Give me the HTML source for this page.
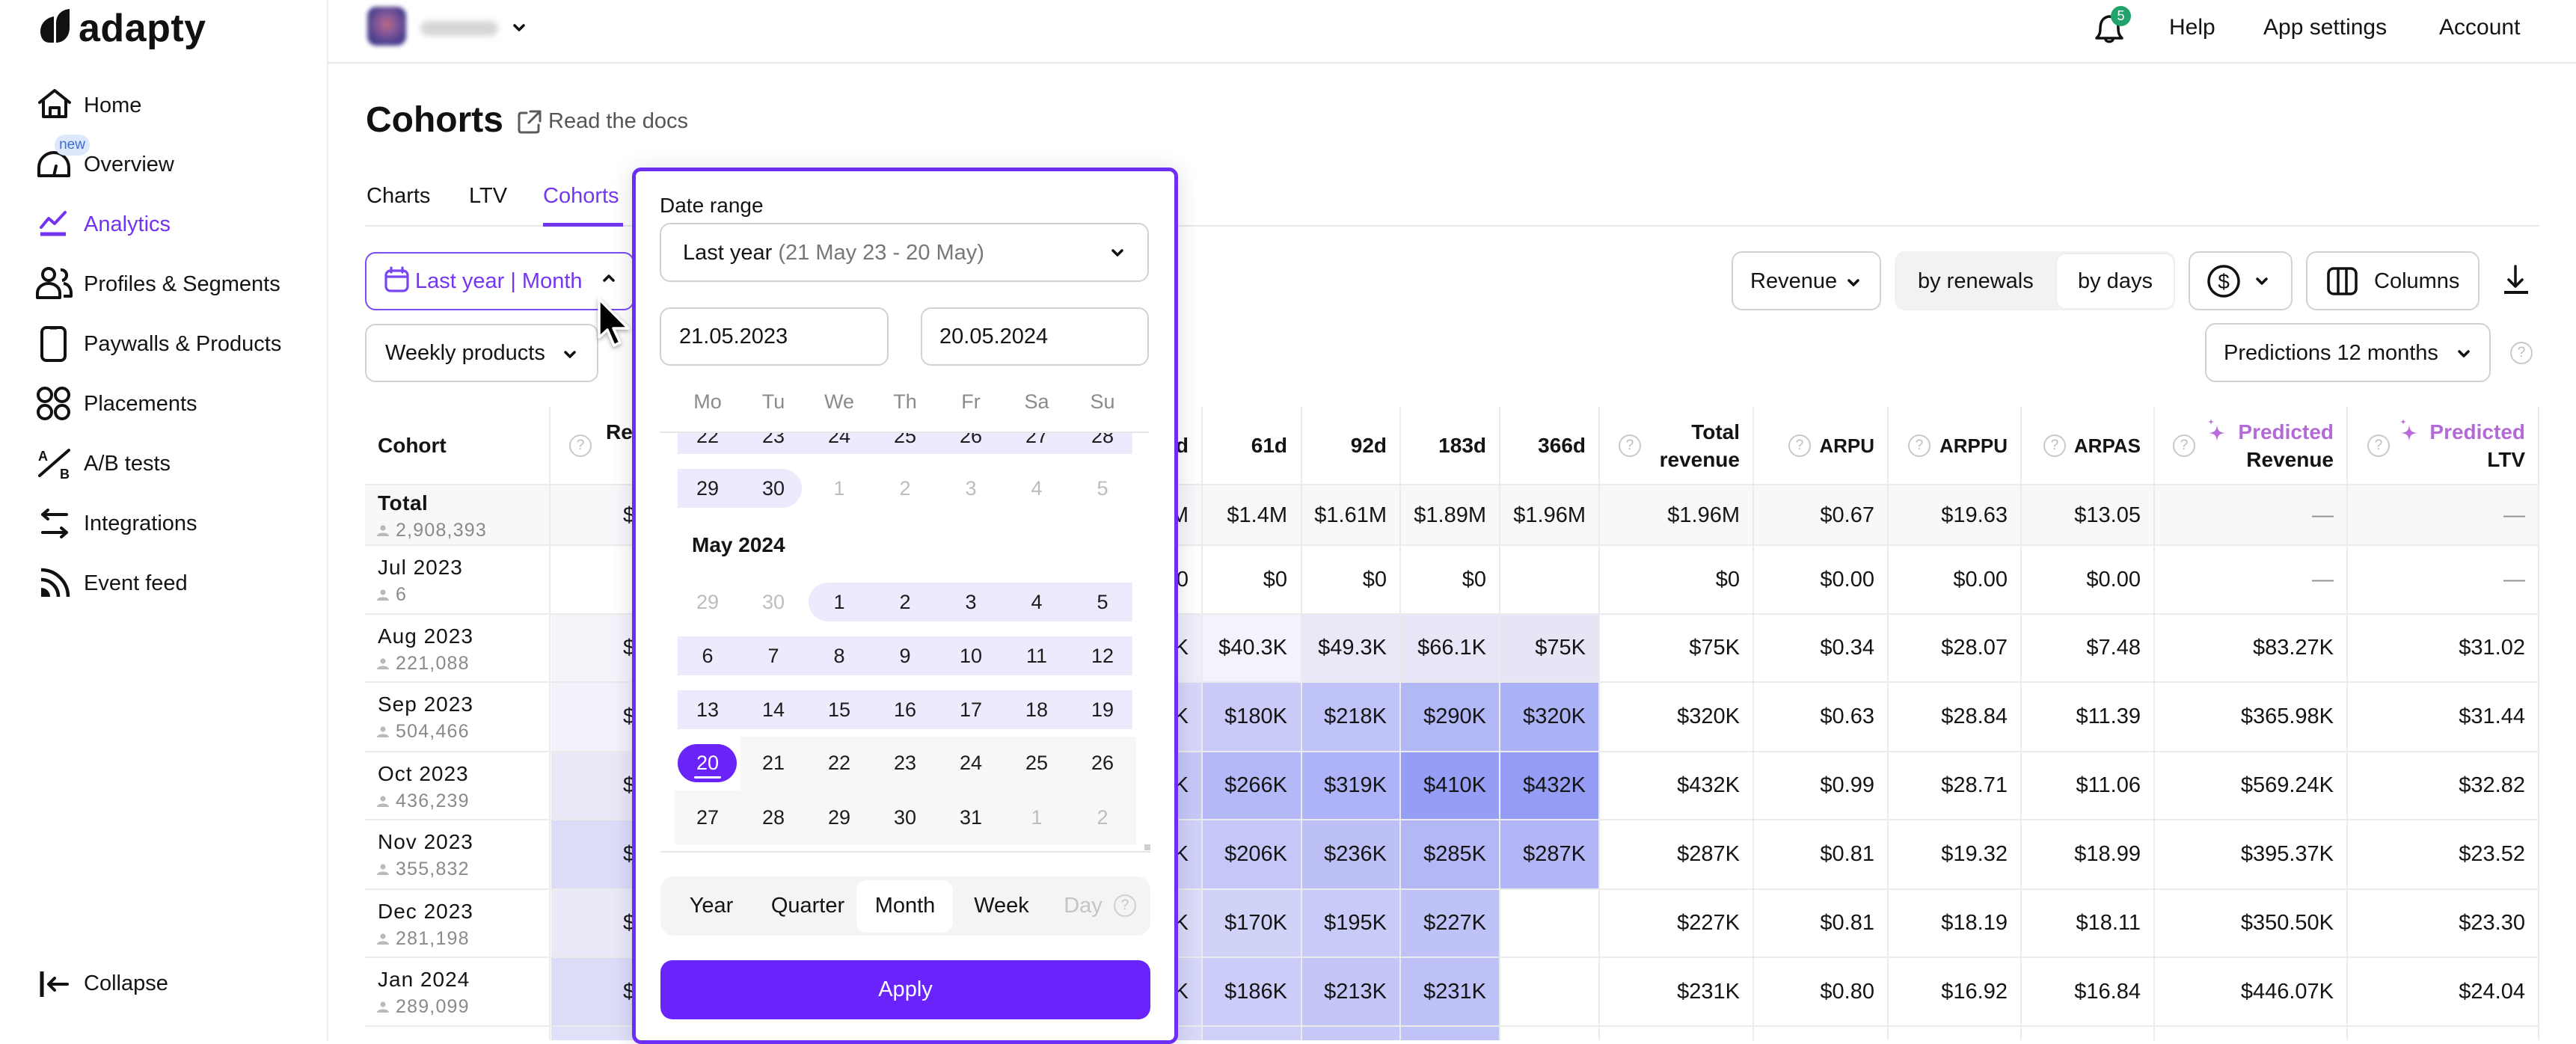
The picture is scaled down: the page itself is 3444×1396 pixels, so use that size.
<!DOCTYPE html>
<html><head><meta charset="utf-8">
<style>
*{box-sizing:border-box}
body{margin:0;width:3444px;height:1391px;overflow:hidden;position:relative;background:#fff;font-family:"Liberation Sans",Arial,sans-serif;color:#141414}
.a{position:absolute}
.t{position:absolute;white-space:nowrap;line-height:40px;height:40px;font-size:29px}
.r{position:absolute;white-space:nowrap;line-height:40px;height:40px;font-size:29px;text-align:right;width:220px}
.hb{font-weight:bold;font-size:28px}
.hs{font-size:26px}
.q{position:absolute;width:30px;height:30px;border:2.5px solid #c9c9c9;border-radius:50%;color:#bdbdbd;font-size:19px;text-align:center;line-height:25px}
.btn{position:absolute;border:2px solid #d2d2d2;border-radius:14px;background:#fff}
.hl{position:absolute;left:488px;width:2907px;height:2px;background:#ebebeb}
.vl{position:absolute;top:544px;width:2px;height:847px;background:#ebebeb}
.cell{position:absolute}
.nm{position:absolute;white-space:nowrap;font-size:28px;letter-spacing:1px;line-height:40px;height:40px;left:505px}
.ct{position:absolute;white-space:nowrap;font-size:25px;letter-spacing:1.2px;line-height:40px;height:40px;left:529px;color:#8a8a8a}
.pi{position:absolute;left:504px;width:16px;height:15px}
.d{position:absolute;width:80px;text-align:center;font-size:27px;line-height:40px;height:40px;color:#1d1d1d}
.g{color:#bdbdbd}
.dash{color:#8d8d8d}
</style></head><body>

<!-- Sidebar -->
<div class="a" style="left:437px;top:0;width:2px;height:1391px;background:#ededed"></div>
<svg class="a" style="left:0;top:0" width="110" height="70">
<path d="M72,22 L72,57 L66,57 C58,57 54,50 54,42 C54,31 62,24 72,22 Z" fill="#111"/>
<path d="M93,12 L93,37 C93,49 85,57 75,57 L75,31 C75,20 82,13 93,12 Z" fill="#111"/>
</svg>
<div class="t" style="left:105px;top:8px;height:60px;line-height:60px;font-size:52px;font-weight:bold;letter-spacing:0.5px;color:#111">adapty</div>

<!-- sidebar icons -->
<svg class="a" style="left:50px;top:118px" width="48" height="42" fill="none" stroke="#111" stroke-width="4" stroke-linejoin="round" stroke-linecap="round">
<path d="M3,19 L23,3 L43,19"/><path d="M8,15 V38 H38 V15"/><path d="M17,38 V26 H29 V38"/></svg>
<svg class="a" style="left:48px;top:200px" width="50" height="40" fill="none" stroke="#111" stroke-width="4" stroke-linejoin="round">
<path d="M4,35 V24 A20,20 0 0 1 44,24 V35 Z"/><path d="M24,35 L27,22" stroke-linecap="round"/></svg>
<div class="a" style="left:73px;top:180px;width:47px;height:28px;border-radius:14px;background:#dce8fb;color:#3d6bd6;font-size:19px;line-height:28px;text-align:center">new</div>
<svg class="a" style="left:51px;top:280px" width="42" height="40" fill="none" stroke="#7133f0" stroke-width="4" stroke-linejoin="round" stroke-linecap="round">
<path d="M4,24 L14,12 L22,19 L36,4"/><path d="M3,33 H37" stroke-width="5" stroke-linecap="butt"/></svg>
<svg class="a" style="left:47px;top:356px" width="52" height="46" fill="none" stroke="#111" stroke-width="4" stroke-linejoin="round">
<circle cx="18" cy="11" r="8"/><path d="M3,42 V36 C3,28 10,23 18,23 C26,23 33,28 33,36 V42 Z"/>
<path d="M34,5 A7,7 0 1 1 36,19"/><path d="M38,23 C45,24 48,30 48,36 V40 H38"/></svg>
<svg class="a" style="left:53px;top:435px" width="38" height="50" fill="none" stroke="#111" stroke-width="4">
<rect x="3" y="3" width="31" height="44" rx="6"/><path d="M14,4 H23" stroke-width="3"/></svg>
<svg class="a" style="left:48px;top:516px" width="50" height="50" fill="none" stroke="#111" stroke-width="4">
<circle cx="12" cy="12" r="9"/><circle cx="35" cy="12" r="9"/><circle cx="12" cy="35" r="9"/><circle cx="35" cy="35" r="9"/></svg>
<svg class="a" style="left:50px;top:598px" width="50" height="46">
<text x="1" y="18" font-family="Liberation Sans" font-weight="bold" font-size="18" fill="#111">A</text>
<text x="30" y="42" font-family="Liberation Sans" font-weight="bold" font-size="18" fill="#111">B</text>
<path d="M3,38 L42,4" stroke="#111" stroke-width="4" stroke-linecap="round"/></svg>
<svg class="a" style="left:52px;top:680px" width="42" height="40" fill="none" stroke="#111" stroke-width="4" stroke-linecap="round" stroke-linejoin="round">
<path d="M37,8 H5 M12,2 L5,8 L12,14"/><path d="M5,32 H37 M30,26 L37,32 L30,38"/></svg>
<svg class="a" style="left:52px;top:756px" width="44" height="42">
<path d="M3,42 V30 A12,12 0 0 1 15,42 Z" fill="#111"/>
<path d="M3,19 A23,23 0 0 1 26,42" fill="none" stroke="#111" stroke-width="4.5"/>
<path d="M3,6 A36,36 0 0 1 39,42" fill="none" stroke="#111" stroke-width="4.5"/></svg>
<svg class="a" style="left:52px;top:1296px" width="42" height="40" fill="none" stroke="#111" stroke-width="4" stroke-linecap="round" stroke-linejoin="round">
<path d="M4,3 V37" stroke-linecap="butt" stroke-width="5"/><path d="M38,20 H13 M21,12 L13,20 L21,28"/></svg>

<div class="t" style="left:112px;top:121px">Home</div>
<div class="t" style="left:112px;top:200px">Overview</div>
<div class="t" style="left:112px;top:280px;color:#7133f0">Analytics</div>
<div class="t" style="left:112px;top:360px">Profiles &amp; Segments</div>
<div class="t" style="left:112px;top:440px">Paywalls &amp; Products</div>
<div class="t" style="left:112px;top:520px">Placements</div>
<div class="t" style="left:112px;top:600px">A/B tests</div>
<div class="t" style="left:112px;top:680px">Integrations</div>
<div class="t" style="left:112px;top:760px">Event feed</div>
<div class="t" style="left:112px;top:1295px">Collapse</div>

<!-- Top bar -->
<div class="a" style="left:439px;top:83px;width:3005px;height:2px;background:#e8e8e8"></div>
<div class="a" style="left:491px;top:9px;width:52px;height:52px;border-radius:12px;background:radial-gradient(circle at 50% 45%,#c06a7a 0,#8a5a9a 30%,#4a3f8e 70%);filter:blur(3px)"></div>
<div class="a" style="left:562px;top:28px;width:104px;height:20px;border-radius:10px;background:#d6d6d6;filter:blur(4px)"></div>
<svg class="a" style="left:685px;top:31px" width="18" height="12" fill="none" stroke="#111" stroke-width="3.5" stroke-linecap="round" stroke-linejoin="round"><path d="M3,3 L9,9 L15,3"/></svg>

<svg class="a" style="left:2800px;top:12px" width="50" height="50" fill="none" stroke="#111" stroke-width="3.5" stroke-linejoin="round">
<path d="M20,10 C11,11 8,18 8,26 C8,33 6,36 3,39 H37 C34,36 32,33 32,26 C32,18 29,11 20,10 Z"/>
<path d="M15,40 C15,45 25,45 25,40"/></svg>
<div class="a" style="left:2822px;top:8px;width:27px;height:27px;border-radius:50%;background:#22a36c;color:#fff;font-size:18px;line-height:27px;text-align:center">5</div>
<div class="t" style="left:2900px;top:17px;font-size:30px">Help</div>
<div class="t" style="left:3026px;top:17px;font-size:30px">App settings</div>
<div class="t" style="left:3261px;top:17px;font-size:30px">Account</div>

<!-- Title -->
<div class="t" style="left:489px;top:131px;height:60px;line-height:60px;font-size:48px;font-weight:bold;color:#111">Cohorts</div>
<svg class="a" style="left:690px;top:145px" width="36" height="36" fill="none" stroke="#5a5a5a" stroke-width="3" stroke-linecap="round" stroke-linejoin="round">
<path d="M14,6 H7 C5,6 4,7 4,9 V29 C4,31 5,32 7,32 H27 C29,32 30,31 30,29 V22"/><path d="M19,4 H32 V17 M32,4 L17,19"/></svg>
<div class="t" style="left:733px;top:142px;color:#555">Read the docs</div>

<!-- Tabs -->
<div class="t" style="left:490px;top:242px">Charts</div>
<div class="t" style="left:627px;top:242px">LTV</div>
<div class="t" style="left:726px;top:242px;color:#7237f1">Cohorts</div>
<div class="a" style="left:488px;top:301px;width:2907px;height:2px;background:#e8e8e8"></div>
<div class="a" style="left:726px;top:298px;width:107px;height:5px;background:#7237f1"></div>

<!-- Filter buttons -->
<div class="btn" style="left:488px;top:337px;width:360px;height:78px;border-color:#7c4bf3"></div>
<svg class="a" style="left:513px;top:356px" width="36" height="36" fill="none" stroke="#7a45f2" stroke-width="3.2" stroke-linejoin="round">
<rect x="3" y="6" width="29" height="27" rx="6"/><path d="M3,14 H32 M10,2 V8 M25,2 V8" stroke-linecap="round"/></svg>
<div class="t" style="left:555px;top:356px;color:#7336f2">Last year | Month</div>
<svg class="a" style="left:805px;top:366px" width="18" height="12" fill="none" stroke="#111" stroke-width="3.5" stroke-linecap="round" stroke-linejoin="round"><path d="M3,9 L9,3 L15,9"/></svg>

<div class="btn" style="left:488px;top:433px;width:312px;height:78px"></div>
<div class="t" style="left:515px;top:452px">Weekly products</div>
<svg class="a" style="left:753px;top:468px" width="18" height="12" fill="none" stroke="#111" stroke-width="3.5" stroke-linecap="round" stroke-linejoin="round"><path d="M3,3 L9,9 L15,3"/></svg>

<!-- right toolbar -->
<div class="btn" style="left:2315px;top:336px;width:200px;height:79px"></div>
<div class="t" style="left:2340px;top:356px">Revenue</div>
<svg class="a" style="left:2469px;top:372px" width="18" height="12" fill="none" stroke="#111" stroke-width="3.5" stroke-linecap="round" stroke-linejoin="round"><path d="M3,3 L9,9 L15,3"/></svg>
<div class="a" style="left:2533px;top:336px;width:375px;height:79px;border-radius:14px;background:#f2f2f2"></div>
<div class="a" style="left:2750px;top:340px;width:156px;height:72px;border-radius:12px;background:#fff;box-shadow:0 0 3px rgba(0,0,0,0.06)"></div>
<div class="t" style="left:2564px;top:356px">by renewals</div>
<div class="t" style="left:2778px;top:356px">by days</div>
<div class="btn" style="left:2926px;top:336px;width:139px;height:79px"></div>
<svg class="a" style="left:2950px;top:353px" width="46" height="46"><circle cx="23" cy="23" r="20" fill="none" stroke="#111" stroke-width="3.5"/>
<text x="23" y="33" text-anchor="middle" font-family="Liberation Sans" font-size="28" fill="#111">$</text></svg>
<svg class="a" style="left:3015px;top:370px" width="18" height="12" fill="none" stroke="#111" stroke-width="3.5" stroke-linecap="round" stroke-linejoin="round"><path d="M3,3 L9,9 L15,3"/></svg>
<div class="btn" style="left:3083px;top:336px;width:232px;height:79px"></div>
<svg class="a" style="left:3110px;top:356px" width="44" height="40" fill="none" stroke="#111" stroke-width="3.5">
<rect x="3" y="3" width="37" height="34" rx="7"/><path d="M16,3 V37 M27,3 V37"/></svg>
<div class="t" style="left:3174px;top:356px">Columns</div>
<svg class="a" style="left:3346px;top:352px" width="36" height="44" fill="none" stroke="#111" stroke-width="3.5" stroke-linecap="round" stroke-linejoin="round">
<path d="M17,4 V30 M8,22 L17,31 L26,22"/><path d="M2,39 H34" stroke-linecap="butt" stroke-width="4"/></svg>

<div class="btn" style="left:2948px;top:432px;width:382px;height:79px"></div>
<div class="t" style="left:2973px;top:452px">Predictions 12 months</div>
<svg class="a" style="left:3285px;top:467px" width="18" height="12" fill="none" stroke="#111" stroke-width="3.5" stroke-linecap="round" stroke-linejoin="round"><path d="M3,3 L9,9 L15,3"/></svg>
<div class="q" style="left:3356px;top:457px">?</div>

<!-- Table backgrounds -->
<div class="cell" style="left:488px;top:648px;width:2907px;height:81px;background:#f8f8fa"></div>
<div class="cell" style="left:737px;top:821px;width:110px;height:91px;background:#f4f4fb"></div>
<div class="cell" style="left:737px;top:912px;width:110px;height:93px;background:#f2f2fb"></div>
<div class="cell" style="left:737px;top:1005px;width:110px;height:91px;background:#e8e8f7"></div>
<div class="cell" style="left:737px;top:1096px;width:110px;height:93px;background:#dddcf8"></div>
<div class="cell" style="left:737px;top:1189px;width:110px;height:91px;background:#e9e9f8"></div>
<div class="cell" style="left:737px;top:1280px;width:110px;height:92px;background:#dcdcf8"></div>
<div class="cell" style="left:737px;top:1372px;width:110px;height:19px;background:#e0e0f8"></div>
<div class="cell" style="left:1560px;top:821px;width:47px;height:91px;background:#eeeefa"></div>
<div class="cell" style="left:1560px;top:912px;width:47px;height:93px;background:#d6d7f8"></div>
<div class="cell" style="left:1560px;top:1005px;width:47px;height:91px;background:#c5c8f7"></div>
<div class="cell" style="left:1560px;top:1096px;width:47px;height:93px;background:#d0d1f8"></div>
<div class="cell" style="left:1560px;top:1189px;width:47px;height:91px;background:#dbdbf8"></div>
<div class="cell" style="left:1560px;top:1280px;width:47px;height:92px;background:#d5d6f8"></div>
<div class="cell" style="left:1560px;top:1372px;width:47px;height:19px;background:#d8d9f8"></div>
<div class="cell" style="left:1607px;top:821px;width:133px;height:91px;background:#f3f3fb"></div>
<div class="cell" style="left:1740px;top:821px;width:132px;height:91px;background:#e8e8f7"></div>
<div class="cell" style="left:1872px;top:821px;width:133px;height:91px;background:#e6e6f6"></div>
<div class="cell" style="left:2005px;top:821px;width:133px;height:91px;background:#e5e5f5"></div>
<div class="cell" style="left:1607px;top:912px;width:133px;height:93px;background:#c9caf8"></div>
<div class="cell" style="left:1740px;top:912px;width:132px;height:93px;background:#c0c3f8"></div>
<div class="cell" style="left:1872px;top:912px;width:133px;height:93px;background:#b2b7f6"></div>
<div class="cell" style="left:2005px;top:912px;width:133px;height:93px;background:#acb2f6"></div>
<div class="cell" style="left:1607px;top:1005px;width:133px;height:91px;background:#b4b8f6"></div>
<div class="cell" style="left:1740px;top:1005px;width:132px;height:91px;background:#adb3f6"></div>
<div class="cell" style="left:1872px;top:1005px;width:133px;height:91px;background:#969df4"></div>
<div class="cell" style="left:2005px;top:1005px;width:133px;height:91px;background:#959cf4"></div>
<div class="cell" style="left:1607px;top:1096px;width:133px;height:93px;background:#c5c7f8"></div>
<div class="cell" style="left:1740px;top:1096px;width:132px;height:93px;background:#bdc0f7"></div>
<div class="cell" style="left:1872px;top:1096px;width:133px;height:93px;background:#b3b7f6"></div>
<div class="cell" style="left:2005px;top:1096px;width:133px;height:93px;background:#b2b6f6"></div>
<div class="cell" style="left:1607px;top:1189px;width:133px;height:91px;background:#d1d2f8"></div>
<div class="cell" style="left:1740px;top:1189px;width:132px;height:91px;background:#c8caf8"></div>
<div class="cell" style="left:1872px;top:1189px;width:133px;height:91px;background:#bfc2f7"></div>
<div class="cell" style="left:1607px;top:1280px;width:133px;height:92px;background:#cbccf8"></div>
<div class="cell" style="left:1740px;top:1280px;width:132px;height:92px;background:#c4c6f8"></div>
<div class="cell" style="left:1872px;top:1280px;width:133px;height:92px;background:#bec1f7"></div>
<div class="cell" style="left:1607px;top:1372px;width:133px;height:19px;background:#cfd0f8"></div>
<div class="cell" style="left:1740px;top:1372px;width:132px;height:19px;background:#c6c8f8"></div>
<div class="cell" style="left:1872px;top:1372px;width:133px;height:19px;background:#c0c3f7"></div>

<!-- grid lines -->
<div class="hl" style="top:647px"></div>
<div class="hl" style="top:728px"></div>
<div class="hl" style="top:820px"></div>
<div class="hl" style="top:911px"></div>
<div class="hl" style="top:1004px"></div>
<div class="hl" style="top:1095px"></div>
<div class="hl" style="top:1188px"></div>
<div class="hl" style="top:1279px"></div>
<div class="hl" style="top:1371px"></div>
<div class="vl" style="left:734px"></div>
<div class="vl" style="left:1606px"></div>
<div class="vl" style="left:1739px"></div>
<div class="vl" style="left:1871px"></div>
<div class="vl" style="left:2004px"></div>
<div class="vl" style="left:2137px"></div>
<div class="vl" style="left:2343px"></div>
<div class="vl" style="left:2523px"></div>
<div class="vl" style="left:2701px"></div>
<div class="vl" style="left:2879px"></div>
<div class="vl" style="left:3137px"></div>
<div class="vl" style="left:3393px"></div>

<!-- header -->
<div class="t hb" style="left:505px;top:576px">Cohort</div>
<div class="q" style="left:761px;top:581px">?</div>
<div class="t hb" style="left:810px;top:558px">Revenue</div>
<div class="r hb" style="left:1369px;top:576px">31d</div>
<div class="r hb" style="left:1501px;top:576px">61d</div>
<div class="r hb" style="left:1634px;top:576px">92d</div>
<div class="r hb" style="left:1767px;top:576px">183d</div>
<div class="r hb" style="left:1900px;top:576px">366d</div>
<div class="q" style="left:2164px;top:581px">?</div>
<div class="r hb" style="left:2106px;top:558px">Total</div>
<div class="r hb" style="left:2106px;top:595px">revenue</div>
<div class="q" style="left:2391px;top:581px">?</div>
<div class="r hb hs" style="left:2286px;top:576px">ARPU</div>
<div class="q" style="left:2551px;top:581px">?</div>
<div class="r hb hs" style="left:2464px;top:576px">ARPPU</div>
<div class="q" style="left:2732px;top:581px">?</div>
<div class="r hb hs" style="left:2642px;top:576px">ARPAS</div>
<div class="q" style="left:2905px;top:581px">?</div>
<svg class="a" style="left:2950px;top:558px" width="28" height="40"><path d="M14,10 C15,18 17,20 25,21 C17,22 15,24 14,32 C13,24 11,22 3,21 C11,20 13,18 14,10 Z" fill="#b86bdc"/><path d="M6,2 C6.5,5 7,5.5 10,6 C7,6.5 6.5,7 6,10 C5.5,7 5,6.5 2,6 C5,5.5 5.5,5 6,2 Z" fill="#b86bdc"/></svg>
<div class="r hb" style="left:2900px;top:558px;color:#b36ad9">Predicted</div>
<div class="r hb" style="left:2900px;top:595px">Revenue</div>
<div class="q" style="left:3165px;top:581px">?</div>
<svg class="a" style="left:3207px;top:558px" width="28" height="40"><path d="M14,10 C15,18 17,20 25,21 C17,22 15,24 14,32 C13,24 11,22 3,21 C11,20 13,18 14,10 Z" fill="#b86bdc"/><path d="M6,2 C6.5,5 7,5.5 10,6 C7,6.5 6.5,7 6,10 C5.5,7 5,6.5 2,6 C5,5.5 5.5,5 6,2 Z" fill="#b86bdc"/></svg>
<div class="r hb" style="left:3156px;top:558px;color:#b36ad9">Predicted</div>
<div class="r hb" style="left:3156px;top:595px">LTV</div>

<!-- cohort names -->
<div class="nm" style="top:653px;font-weight:bold;letter-spacing:0.5px">Total</div>
<svg class="pi" style="top:702px" viewBox="0 0 16 15"><circle cx="8" cy="4" r="3.6" fill="#b9b9b9"/><path d="M0,15 C0,9 16,9 16,15 Z" fill="#b9b9b9"/></svg>
<div class="ct" style="top:689px">2,908,393</div>
<div class="nm" style="top:739px">Jul 2023</div>
<svg class="pi" style="top:788px" viewBox="0 0 16 15"><circle cx="8" cy="4" r="3.6" fill="#b9b9b9"/><path d="M0,15 C0,9 16,9 16,15 Z" fill="#b9b9b9"/></svg>
<div class="ct" style="top:775px">6</div>
<div class="nm" style="top:831px">Aug 2023</div>
<svg class="pi" style="top:880px" viewBox="0 0 16 15"><circle cx="8" cy="4" r="3.6" fill="#b9b9b9"/><path d="M0,15 C0,9 16,9 16,15 Z" fill="#b9b9b9"/></svg>
<div class="ct" style="top:867px">221,088</div>
<div class="nm" style="top:922px">Sep 2023</div>
<svg class="pi" style="top:971px" viewBox="0 0 16 15"><circle cx="8" cy="4" r="3.6" fill="#b9b9b9"/><path d="M0,15 C0,9 16,9 16,15 Z" fill="#b9b9b9"/></svg>
<div class="ct" style="top:958px">504,466</div>
<div class="nm" style="top:1015px">Oct 2023</div>
<svg class="pi" style="top:1064px" viewBox="0 0 16 15"><circle cx="8" cy="4" r="3.6" fill="#b9b9b9"/><path d="M0,15 C0,9 16,9 16,15 Z" fill="#b9b9b9"/></svg>
<div class="ct" style="top:1051px">436,239</div>
<div class="nm" style="top:1106px">Nov 2023</div>
<svg class="pi" style="top:1155px" viewBox="0 0 16 15"><circle cx="8" cy="4" r="3.6" fill="#b9b9b9"/><path d="M0,15 C0,9 16,9 16,15 Z" fill="#b9b9b9"/></svg>
<div class="ct" style="top:1142px">355,832</div>
<div class="nm" style="top:1199px">Dec 2023</div>
<svg class="pi" style="top:1248px" viewBox="0 0 16 15"><circle cx="8" cy="4" r="3.6" fill="#b9b9b9"/><path d="M0,15 C0,9 16,9 16,15 Z" fill="#b9b9b9"/></svg>
<div class="ct" style="top:1235px">281,198</div>
<div class="nm" style="top:1290px">Jan 2024</div>
<svg class="pi" style="top:1339px" viewBox="0 0 16 15"><circle cx="8" cy="4" r="3.6" fill="#b9b9b9"/><path d="M0,15 C0,9 16,9 16,15 Z" fill="#b9b9b9"/></svg>
<div class="ct" style="top:1326px">289,099</div>

<!-- revenue col $ -->
<div class="t" style="left:833px;top:669px">$1.96M</div>
<div class="t" style="left:833px;top:846px">$75K</div>
<div class="t" style="left:833px;top:938px">$320K</div>
<div class="t" style="left:833px;top:1030px">$432K</div>
<div class="t" style="left:833px;top:1122px">$287K</div>
<div class="t" style="left:833px;top:1214px">$227K</div>
<div class="t" style="left:833px;top:1306px">$231K</div>

<!-- values: Total -->
<div class="r" style="left:1369px;top:669px">$1.2M</div>
<div class="r" style="left:1501px;top:669px">$1.4M</div>
<div class="r" style="left:1634px;top:669px">$1.61M</div>
<div class="r" style="left:1767px;top:669px">$1.89M</div>
<div class="r" style="left:1900px;top:669px">$1.96M</div>
<div class="r" style="left:2106px;top:669px">$1.96M</div>
<div class="r" style="left:2286px;top:669px">$0.67</div>
<div class="r" style="left:2464px;top:669px">$19.63</div>
<div class="r" style="left:2642px;top:669px">$13.05</div>
<div class="r dash" style="left:2900px;top:669px">—</div>
<div class="r dash" style="left:3156px;top:669px">—</div>
<!-- Jul -->
<div class="r" style="left:1369px;top:755px">$0</div>
<div class="r" style="left:1501px;top:755px">$0</div>
<div class="r" style="left:1634px;top:755px">$0</div>
<div class="r" style="left:1767px;top:755px">$0</div>
<div class="r" style="left:2106px;top:755px">$0</div>
<div class="r" style="left:2286px;top:755px">$0.00</div>
<div class="r" style="left:2464px;top:755px">$0.00</div>
<div class="r" style="left:2642px;top:755px">$0.00</div>
<div class="r dash" style="left:2900px;top:755px">—</div>
<div class="r dash" style="left:3156px;top:755px">—</div>
<!-- Aug -->
<div class="r" style="left:1369px;top:846px">$35K</div>
<div class="r" style="left:1501px;top:846px">$40.3K</div>
<div class="r" style="left:1634px;top:846px">$49.3K</div>
<div class="r" style="left:1767px;top:846px">$66.1K</div>
<div class="r" style="left:1900px;top:846px">$75K</div>
<div class="r" style="left:2106px;top:846px">$75K</div>
<div class="r" style="left:2286px;top:846px">$0.34</div>
<div class="r" style="left:2464px;top:846px">$28.07</div>
<div class="r" style="left:2642px;top:846px">$7.48</div>
<div class="r" style="left:2900px;top:846px">$83.27K</div>
<div class="r" style="left:3156px;top:846px">$31.02</div>
<!-- Sep -->
<div class="r" style="left:1369px;top:938px">$150K</div>
<div class="r" style="left:1501px;top:938px">$180K</div>
<div class="r" style="left:1634px;top:938px">$218K</div>
<div class="r" style="left:1767px;top:938px">$290K</div>
<div class="r" style="left:1900px;top:938px">$320K</div>
<div class="r" style="left:2106px;top:938px">$320K</div>
<div class="r" style="left:2286px;top:938px">$0.63</div>
<div class="r" style="left:2464px;top:938px">$28.84</div>
<div class="r" style="left:2642px;top:938px">$11.39</div>
<div class="r" style="left:2900px;top:938px">$365.98K</div>
<div class="r" style="left:3156px;top:938px">$31.44</div>
<!-- Oct -->
<div class="r" style="left:1369px;top:1030px">$220K</div>
<div class="r" style="left:1501px;top:1030px">$266K</div>
<div class="r" style="left:1634px;top:1030px">$319K</div>
<div class="r" style="left:1767px;top:1030px">$410K</div>
<div class="r" style="left:1900px;top:1030px">$432K</div>
<div class="r" style="left:2106px;top:1030px">$432K</div>
<div class="r" style="left:2286px;top:1030px">$0.99</div>
<div class="r" style="left:2464px;top:1030px">$28.71</div>
<div class="r" style="left:2642px;top:1030px">$11.06</div>
<div class="r" style="left:2900px;top:1030px">$569.24K</div>
<div class="r" style="left:3156px;top:1030px">$32.82</div>
<!-- Nov -->
<div class="r" style="left:1369px;top:1122px">$170K</div>
<div class="r" style="left:1501px;top:1122px">$206K</div>
<div class="r" style="left:1634px;top:1122px">$236K</div>
<div class="r" style="left:1767px;top:1122px">$285K</div>
<div class="r" style="left:1900px;top:1122px">$287K</div>
<div class="r" style="left:2106px;top:1122px">$287K</div>
<div class="r" style="left:2286px;top:1122px">$0.81</div>
<div class="r" style="left:2464px;top:1122px">$19.32</div>
<div class="r" style="left:2642px;top:1122px">$18.99</div>
<div class="r" style="left:2900px;top:1122px">$395.37K</div>
<div class="r" style="left:3156px;top:1122px">$23.52</div>
<!-- Dec -->
<div class="r" style="left:1369px;top:1214px">$140K</div>
<div class="r" style="left:1501px;top:1214px">$170K</div>
<div class="r" style="left:1634px;top:1214px">$195K</div>
<div class="r" style="left:1767px;top:1214px">$227K</div>
<div class="r" style="left:2106px;top:1214px">$227K</div>
<div class="r" style="left:2286px;top:1214px">$0.81</div>
<div class="r" style="left:2464px;top:1214px">$18.19</div>
<div class="r" style="left:2642px;top:1214px">$18.11</div>
<div class="r" style="left:2900px;top:1214px">$350.50K</div>
<div class="r" style="left:3156px;top:1214px">$23.30</div>
<!-- Jan -->
<div class="r" style="left:1369px;top:1306px">$150K</div>
<div class="r" style="left:1501px;top:1306px">$186K</div>
<div class="r" style="left:1634px;top:1306px">$213K</div>
<div class="r" style="left:1767px;top:1306px">$231K</div>
<div class="r" style="left:2106px;top:1306px">$231K</div>
<div class="r" style="left:2286px;top:1306px">$0.80</div>
<div class="r" style="left:2464px;top:1306px">$16.92</div>
<div class="r" style="left:2642px;top:1306px">$16.84</div>
<div class="r" style="left:2900px;top:1306px">$446.07K</div>
<div class="r" style="left:3156px;top:1306px">$24.04</div>

<!-- Popup -->
<div class="a" style="left:845px;top:224px;width:730px;height:1172px;border:5px solid #6c2df5;border-radius:12px;background:#fff;box-shadow:0 4px 30px rgba(40,30,80,0.16)"></div>
<div class="t" style="left:882px;top:255px;font-size:28px">Date range</div>
<div class="btn" style="left:882px;top:298px;width:654px;height:79px"></div>
<div class="t" style="left:913px;top:318px">Last year <span style="color:#777">(21 May 23 - 20 May)</span></div>
<svg class="a" style="left:1485px;top:332px" width="18" height="12" fill="none" stroke="#111" stroke-width="3.5" stroke-linecap="round" stroke-linejoin="round"><path d="M3,3 L9,9 L15,3"/></svg>
<div class="btn" style="left:882px;top:411px;width:306px;height:78px"></div>
<div class="t" style="left:908px;top:430px">21.05.2023</div>
<div class="btn" style="left:1231px;top:411px;width:305px;height:78px"></div>
<div class="t" style="left:1256px;top:430px">20.05.2024</div>

<div class="d" style="left:906px;top:517px;color:#8a8a8a">Mo</div>
<div class="d" style="left:994px;top:517px;color:#8a8a8a">Tu</div>
<div class="d" style="left:1082px;top:517px;color:#8a8a8a">We</div>
<div class="d" style="left:1170px;top:517px;color:#8a8a8a">Th</div>
<div class="d" style="left:1258px;top:517px;color:#8a8a8a">Fr</div>
<div class="d" style="left:1346px;top:517px;color:#8a8a8a">Sa</div>
<div class="d" style="left:1434px;top:517px;color:#8a8a8a">Su</div>

<div class="a" style="left:850px;top:578px;width:720px;height:557px;overflow:hidden">
  <div class="a" style="left:56px;top:-23px;width:608px;height:52px;background:#eeeafd"></div>
  <div class="d" style="left:56px;top:-15px">22</div><div class="d" style="left:144px;top:-15px">23</div><div class="d" style="left:232px;top:-15px">24</div><div class="d" style="left:320px;top:-15px">25</div><div class="d" style="left:408px;top:-15px">26</div><div class="d" style="left:496px;top:-15px">27</div><div class="d" style="left:584px;top:-15px">28</div>

  <div class="a" style="left:56px;top:49px;width:166px;height:52px;background:#eeeafd;border-radius:0 26px 26px 0"></div>
  <div class="d" style="left:56px;top:55px">29</div><div class="d" style="left:144px;top:55px">30</div>
  <div class="d g" style="left:232px;top:55px">1</div><div class="d g" style="left:320px;top:55px">2</div><div class="d g" style="left:408px;top:55px">3</div><div class="d g" style="left:496px;top:55px">4</div><div class="d g" style="left:584px;top:55px">5</div>

  <div class="t" style="left:75px;top:131px;font-weight:bold;font-size:28px">May 2024</div>

  <div class="a" style="left:231px;top:201px;width:433px;height:52px;background:#eeeafd;border-radius:26px 0 0 26px"></div>
  <div class="d g" style="left:56px;top:207px">29</div><div class="d g" style="left:144px;top:207px">30</div>
  <div class="d" style="left:232px;top:207px">1</div><div class="d" style="left:320px;top:207px">2</div><div class="d" style="left:408px;top:207px">3</div><div class="d" style="left:496px;top:207px">4</div><div class="d" style="left:584px;top:207px">5</div>

  <div class="a" style="left:56px;top:273px;width:608px;height:52px;background:#eeeafd"></div>
  <div class="d" style="left:56px;top:279px">6</div><div class="d" style="left:144px;top:279px">7</div><div class="d" style="left:232px;top:279px">8</div><div class="d" style="left:320px;top:279px">9</div><div class="d" style="left:408px;top:279px">10</div><div class="d" style="left:496px;top:279px">11</div><div class="d" style="left:584px;top:279px">12</div>

  <div class="a" style="left:56px;top:345px;width:608px;height:52px;background:#eeeafd"></div>
  <div class="d" style="left:56px;top:351px">13</div><div class="d" style="left:144px;top:351px">14</div><div class="d" style="left:232px;top:351px">15</div><div class="d" style="left:320px;top:351px">16</div><div class="d" style="left:408px;top:351px">17</div><div class="d" style="left:496px;top:351px">18</div><div class="d" style="left:584px;top:351px">19</div>

  <div class="a" style="left:140px;top:407px;width:529px;height:144px;background:#f7f7f7"></div>
  <div class="a" style="left:52px;top:479px;width:88px;height:72px;background:#f7f7f7"></div>
  <div class="a" style="left:56px;top:417px;width:79px;height:51px;background:#6a24f8;border-radius:26px"></div>
  <div class="d" style="left:56px;top:422px;color:#fff">20</div>
  <div class="a" style="left:78px;top:460px;width:36px;height:3px;background:#fff;border-radius:2px"></div>
  <div class="d" style="left:144px;top:422px">21</div><div class="d" style="left:232px;top:422px">22</div><div class="d" style="left:320px;top:422px">23</div><div class="d" style="left:408px;top:422px">24</div><div class="d" style="left:496px;top:422px">25</div><div class="d" style="left:584px;top:422px">26</div>

  <div class="d" style="left:56px;top:495px">27</div><div class="d" style="left:144px;top:495px">28</div><div class="d" style="left:232px;top:495px">29</div><div class="d" style="left:320px;top:495px">30</div><div class="d" style="left:408px;top:495px">31</div><div class="d g" style="left:496px;top:495px">1</div><div class="d g" style="left:584px;top:495px">2</div>
</div>
<div class="a" style="left:882px;top:577px;width:654px;height:2px;background:#e6e6e6"></div>
<div class="a" style="left:1530px;top:1129px;width:8px;height:8px;background:#cfcfcf"></div>
<div class="a" style="left:883px;top:1138px;width:655px;height:2px;background:#e6e6e6"></div>

<div class="a" style="left:883px;top:1172px;width:655px;height:79px;border-radius:18px;background:#f4f4f4"></div>
<div class="a" style="left:1145px;top:1177px;width:129px;height:70px;border-radius:14px;background:#fff"></div>
<div class="t" style="left:861px;top:1191px;width:180px;text-align:center">Year</div>
<div class="t" style="left:990px;top:1191px;width:180px;text-align:center">Quarter</div>
<div class="t" style="left:1120px;top:1191px;width:180px;text-align:center">Month</div>
<div class="t" style="left:1249px;top:1191px;width:180px;text-align:center">Week</div>
<div class="t" style="left:1358px;top:1191px;width:180px;text-align:center;color:#c4c4c4">Day</div>
<div class="q" style="left:1489px;top:1196px;border-color:#cfcfcf;color:#c4c4c4">?</div>

<div class="a" style="left:883px;top:1284px;width:655px;height:79px;border-radius:16px;background:#6a24fb"></div>
<div class="t" style="left:883px;top:1303px;width:655px;text-align:center;color:#fff">Apply</div>

<!-- cursor -->
<svg class="a" style="left:796px;top:395px;filter:drop-shadow(0 2px 3px rgba(0,0,0,0.35))" width="56" height="76">
<path d="M5,5 L5,56 L16,46 L25,67 L33,63 L24,44 L44,44 Z" fill="#000" stroke="#fff" stroke-width="3.5" stroke-linejoin="round"/></svg>

</body></html>
